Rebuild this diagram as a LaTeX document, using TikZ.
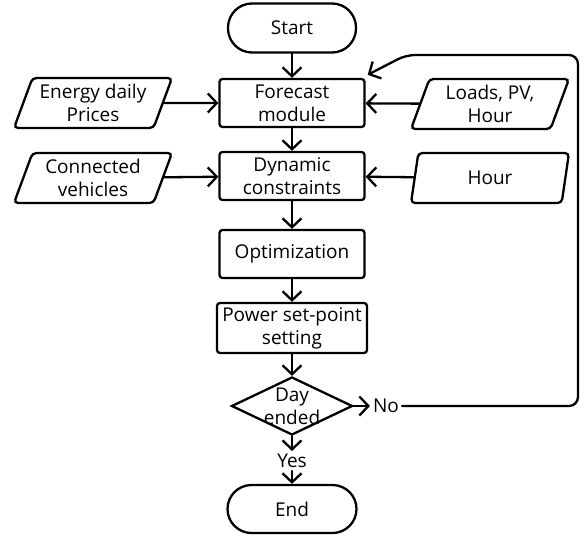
\documentclass[tikz,border=0pt]{standalone}
\usepackage{fontspec}
\setmainfont{Open Sans}
\usetikzlibrary{shapes.geometric,arrows.meta}
\begin{document}
\begin{tikzpicture}[x=1pt,y=-1pt,
  line width=2.3pt,
  every node/.style={font=\fontsize{19}{23}\selectfont, align=center},
  procbox/.style={draw, rounded corners=3pt, minimum width=145pt, minimum height=48pt, inner sep=1pt},
  termbox/.style={draw, rounded corners=24pt, minimum width=128pt, minimum height=49pt},
  iobox/.style={draw, trapezium, trapezium left angle=65, trapezium right angle=115,
     trapezium stretches body, rounded corners=4pt, minimum width=158pt, minimum height=50pt, inner sep=1pt},
  decbox/.style={draw, diamond, minimum width=121pt, minimum height=58pt, inner sep=0pt},
  arr/.style={-{Straight Barb[length=9pt,width=19pt]}, line join=round, line cap=round},
  plain/.style={inner sep=2pt}
]
\useasboundingbox (0,0) rectangle (585,537);

\node[termbox] (start) at (292,28) {Start};
\node[procbox] (fc) at (292,103) {Forecast\\module};
\node[iobox] (en) at (93,103) {Energy daily\\Prices};
\node[iobox] (ld) at (490,104) {Loads, PV,\\Hour};
\node[procbox] (dc) at (292,176) {Dynamic\\constraints};
\node[iobox] (cv) at (93,178) {Connected\\vehicles};
\node[iobox] (hr) at (490,178) {Hour};
\node[procbox] (op) at (292,254) {Optimization};
\node[procbox, minimum width=150pt, minimum height=50pt] (ps) at (292,328) {Power set-point\\setting};
\node[decbox, label={[align=center]center:Day\\ended}] (dd) at (292,406) {};
\node[plain] (yes) at (292,461) {Yes};
\node[termbox, minimum width=129pt, minimum height=48pt] (end) at (292,509) {End};
\node[plain] (no) at (386,406) {No};

\coordinate (c1) at (578,406);
\coordinate (c2) at (578,55);
\coordinate (c3) at (406,55);

\draw[arr] (start) -- (fc);
\draw[arr] (en) -- (fc);
\draw[arr] (ld) -- (fc);
\draw[arr] (fc) -- (dc);
\draw[arr] (cv) -- (dc);
\draw[arr] (hr) -- (dc);
\draw[arr] (dc) -- (op);
\draw[arr] (op) -- (ps);
\draw[arr] (ps) -- (dd);
\draw[arr] (dd) -- (no);
\draw[arr] (dd) -- (yes);
\draw[arr] (yes) -- (end);
\draw[arr, rounded corners=9pt] (no) -- (c1) -- (c2) -- (c3) -- ([xshift=2pt,yshift=3pt]fc.north east);
\end{tikzpicture}
\end{document}
